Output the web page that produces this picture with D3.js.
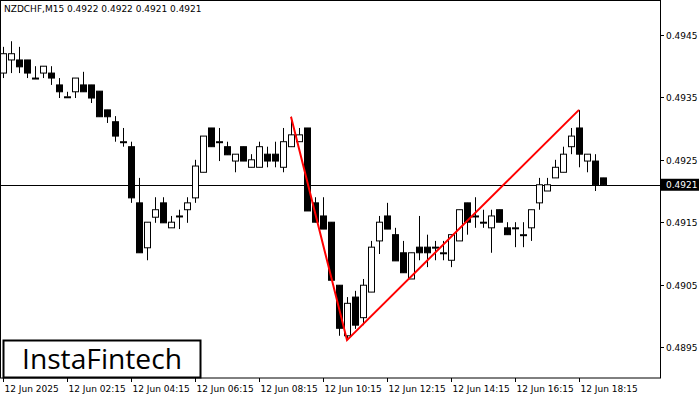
<!DOCTYPE html>
<html><head><meta charset="utf-8">
<script src="https://cdn.jsdelivr.net/npm/d3@7"></script>
<style>body{margin:0;background:#fff}svg{display:block}</style>
</head><body><svg id="c" width="700" height="400"></svg>
<script>
const opens  = [.49389,.49410,.49410,.49410,.49381,.49389,.49389,.49370,.49351,.49359,.49370,.49370,.49360,.49330,.49311,.49279,.49271,.49181,.49109,.49158,.49181,.49141,.49160,.49170,.49189,.49230,.49301,.49279,.49271,.49248,.49271,.49238,.49238,.49259,.49259,.49238,.49271,.49279,.49301,.49181,.49160,.49150,.49049,.48968,.49030,.48997,.49038,.49120,.49160,.49130,.49101,.49059,.49110,.49110,.49110,.49101,.49089,.49120,.49181,.49160,.49150,.49141,.49170,.49141,.49141,.49130,.49141,.49181,.49200,.49221,.49230,.49271,.49301,.49248,.49248,.49221];
const highs  = [.49431,.49440,.49431,.49410,.49400,.49400,.49400,.49381,.49359,.49381,.49391,.49370,.49360,.49330,.49320,.49301,.49279,.49221,.49150,.49190,.49190,.49160,.49170,.49190,.49250,.49288,.49301,.49301,.49279,.49259,.49271,.49259,.49279,.49271,.49279,.49301,.49319,.49301,.49301,.49190,.49190,.49150,.49049,.49030,.49040,.49059,.49120,.49160,.49181,.49141,.49120,.49101,.49160,.49130,.49120,.49120,.49130,.49170,.49181,.49190,.49170,.49170,.49170,.49150,.49150,.49150,.49170,.49221,.49221,.49250,.49271,.49301,.49330,.49259,.49259,.49221];
const lows   = [.49381,.49389,.49389,.49381,.49381,.49381,.49370,.49349,.49351,.49349,.49359,.49341,.49319,.49309,.49279,.49271,.49181,.49101,.49089,.49149,.49149,.49141,.49139,.49149,.49181,.49230,.49271,.49248,.49258,.49230,.49248,.49238,.49238,.49238,.49238,.49230,.49271,.49279,.49168,.49150,.49139,.49057,.48968,.48961,.48979,.48985,.49038,.49099,.49139,.49088,.49069,.49059,.49089,.49078,.49089,.49089,.49078,.49120,.49130,.49141,.49141,.49101,.49150,.49130,.49110,.49110,.49120,.49170,.49200,.49221,.49230,.49259,.49238,.49230,.49200,.49210];
const closes = [.49420,.49420,.49399,.49389,.49381,.49400,.49381,.49359,.49351,.49381,.49359,.49349,.49319,.49319,.49288,.49279,.49189,.49101,.49150,.49170,.49149,.49150,.49160,.49181,.49240,.49288,.49271,.49279,.49258,.49259,.49248,.49250,.49271,.49248,.49248,.49279,.49290,.49290,.49168,.49150,.49139,.49057,.48980,.49020,.48985,.49049,.49110,.49150,.49139,.49088,.49069,.49101,.49101,.49101,.49110,.49101,.49130,.49170,.49150,.49160,.49150,.49160,.49150,.49130,.49141,.49130,.49170,.49210,.49210,.49238,.49259,.49288,.49259,.49259,.49210,.49210];
const priceTicks = [0.4945,0.4935,0.4925,0.4915,0.4905,0.4895];
const timeLabels = ["12 Jun 2025","12 Jun 02:15","12 Jun 04:15","12 Jun 06:15","12 Jun 08:15","12 Jun 10:15","12 Jun 12:15","12 Jun 14:15","12 Jun 16:15","12 Jun 18:15"];
const labelIdx = [0,8,16,24,32,40,48,56,64,72];
const currentPrice = 0.4921;
const patternIdx = [36,43,72];
const patternPrice = [0.49319,0.48961,0.49330];
const title = "NZDCHF,M15  0.4922 0.4922 0.4921 0.4921";

const svg = d3.select("#c");
const W=660,H=378;
const x = d3.scaleLinear().domain([0,75]).range([3,603]);
const y = d3.scaleLinear().domain([0.4895,0.4945]).range([347,35]);
const font="Tahoma, 'DejaVu Sans', sans-serif";

svg.append("rect").attr("x",0.5).attr("y",0.5).attr("width",W).attr("height",H-0.5).attr("fill","none").attr("stroke","#000");
svg.append("text").attr("x",4).attr("y",12).attr("font-family",font).attr("font-size",9).text(title);

svg.append("line").attr("x1",0).attr("x2",W).attr("y1",Math.round(y(currentPrice))+0.5).attr("y2",Math.round(y(currentPrice))+0.5).attr("stroke","#000");

const idx = d3.range(opens.length);
const g = svg.append("g");
g.selectAll("line.w").data(idx).join("line")
 .attr("x1",i=>Math.round(x(i))+0.5).attr("x2",i=>Math.round(x(i))+0.5)
 .attr("y1",i=>y(highs[i])).attr("y2",i=>y(lows[i])).attr("stroke","#000");
g.selectAll("rect").data(idx).join("rect")
 .attr("x",i=>Math.round(x(i))-2.5).attr("width",6)
 .attr("y",i=>y(Math.max(opens[i],closes[i])))
 .attr("height",i=>Math.max(1,Math.abs(y(opens[i])-y(closes[i]))))
 .attr("fill",i=>closes[i]>=opens[i]?"#fff":"#000").attr("stroke","#000");

svg.append("path").attr("d",d3.line().x(i=>x(patternIdx[i])).y(i=>y(patternPrice[i]))([0,1,2]))
 .attr("fill","none").attr("stroke","#f00").attr("stroke-width",2);

priceTicks.forEach(p=>{
  const yy=Math.round(y(p))+0.5;
  svg.append("line").attr("x1",W).attr("x2",W+4).attr("y1",yy).attr("y2",yy).attr("stroke","#000");
  svg.append("text").attr("x",W+6).attr("y",yy+3).attr("font-family",font).attr("font-size",9).text(p.toFixed(4));
});
const cy=y(currentPrice);
svg.append("rect").attr("x",W+1).attr("y",cy-6).attr("width",38).attr("height",12).attr("fill","#000");
svg.append("text").attr("x",W+6).attr("y",cy+3).attr("font-family",font).attr("font-size",9).attr("fill","#fff").text(currentPrice.toFixed(4));

labelIdx.forEach((k,j)=>{
  const xx=Math.round(x(k))+0.5;
  svg.append("line").attr("x1",xx).attr("x2",xx).attr("y1",H).attr("y2",H+4).attr("stroke","#000");
  svg.append("text").attr("x",xx+1).attr("y",H+14).attr("font-family",font).attr("font-size",9).text(timeLabels[j]);
});

svg.append("rect").attr("x",3.5).attr("y",340.5).attr("width",197).attr("height",37).attr("fill","#fff").attr("stroke","#000").attr("stroke-width",2);
svg.append("text").attr("x",22).attr("y",369).attr("font-family","'Open Sans', sans-serif").attr("font-size",27).attr("font-weight",500)
 .attr("textLength",160).attr("lengthAdjust","spacingAndGlyphs").attr("fill","#000").text("InstaFintech");
</script></body></html>
